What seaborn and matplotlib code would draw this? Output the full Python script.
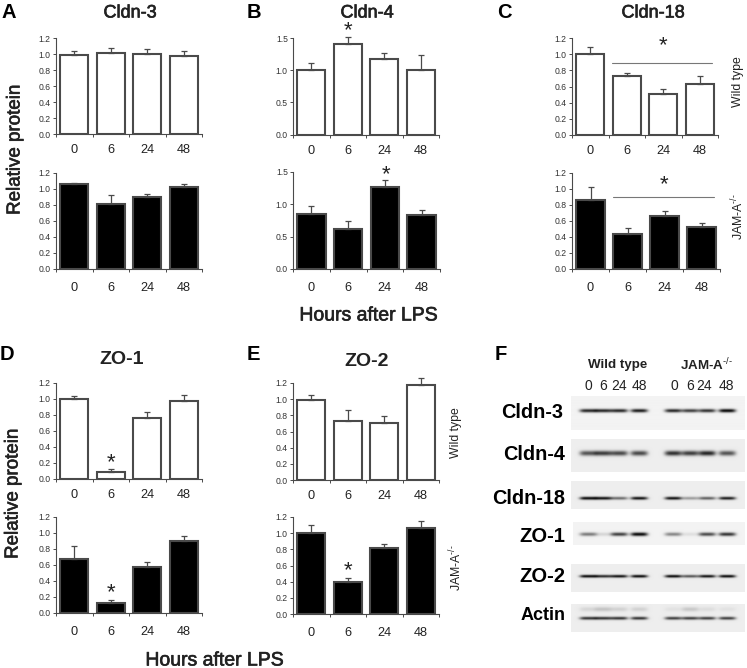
import numpy as np
import pandas as pd
import matplotlib
matplotlib.use("Agg")
import matplotlib.pyplot as plt
import matplotlib.patheffects as pe
import seaborn as sns

sns.set_theme(style="ticks")
plt.rcParams["font.family"] = ["Liberation Sans", "DejaVu Sans"]
plt.rcParams["mathtext.fontset"] = "custom"
plt.rcParams["mathtext.rm"] = "Liberation Sans"
plt.rcParams["mathtext.default"] = "rm"

hours = ["0", "6", "24", "48"]

cldn3_wt = [0.99, 1.01, 1.00, 0.98]
cldn3_wt_err = [0.05, 0.06, 0.06, 0.06]
cldn3_ko = [1.06, 0.81, 0.90, 1.02]
cldn3_ko_err = [0.02, 0.12, 0.04, 0.04]

cldn4_wt = [1.00, 1.41, 1.17, 1.01]
cldn4_wt_err = [0.11, 0.11, 0.10, 0.23]
cldn4_ko = [0.85, 0.62, 1.27, 0.83]
cldn4_ko_err = [0.12, 0.12, 0.10, 0.08]

cldn18_wt = [1.00, 0.73, 0.51, 0.63]
cldn18_wt_err = [0.09, 0.04, 0.06, 0.10]
cldn18_ko = [0.86, 0.44, 0.66, 0.53]
cldn18_ko_err = [0.16, 0.07, 0.06, 0.04]

zo1_wt = [1.00, 0.09, 0.76, 0.98]
zo1_wt_err = [0.04, 0.04, 0.08, 0.07]
zo1_ko = [0.68, 0.12, 0.58, 0.90]
zo1_ko_err = [0.16, 0.04, 0.06, 0.06]

zo2_wt = [0.99, 0.73, 0.71, 1.18]
zo2_wt_err = [0.06, 0.13, 0.08, 0.08]
zo2_ko = [1.00, 0.39, 0.82, 1.07]
zo2_ko_err = [0.10, 0.05, 0.05, 0.08]

# blot band darkness per lane, wild type then JAM-A
blot_names = ["Cldn-3", "Cldn-4", "Cldn-18", "ZO-1", "ZO-2", "Actin"]
blot_cldn3 = [0.85, 0.85, 0.85, 0.90, 0.85, 0.75, 0.80, 1.00]
blot_cldn4 = [0.65, 0.75, 0.70, 0.70, 0.80, 0.75, 0.85, 0.65]
blot_cldn18 = [1.00, 0.95, 0.55, 0.95, 0.95, 0.35, 0.60, 0.90]
blot_zo1 = [0.50, 0.12, 0.75, 1.00, 0.45, 0.08, 0.70, 0.80]
blot_zo2 = [1.00, 0.85, 0.95, 1.00, 1.00, 0.65, 0.95, 1.00]
blot_actin = [0.80, 0.80, 0.80, 0.80, 0.75, 0.75, 0.75, 0.75]
blot_actin_upper = [0.10, 0.18, 0.12, 0.12, 0.05, 0.16, 0.07, 0.05]

W, H = 747, 668
dark = "#222222"
line = "#4a4a4a"
semibold = [pe.withStroke(linewidth=0.45, foreground=dark)]

fig = plt.figure(figsize=(W / 100, H / 100), dpi=100, facecolor="white")


def add_px_axes(left, top, right, bottom):
    return fig.add_axes([left / W, 1 - bottom / H, (right - left) / W, (bottom - top) / H])


def px_text(x, y, s, **kw):
    kw.setdefault("color", dark)
    fig.text(x / W, 1 - y / H, s, **kw)


def bars(box, values, errs, color, ymax, step, pad):
    ax = add_px_axes(*box)
    df = pd.DataFrame({"hour": hours, "value": values})
    sns.barplot(data=df, x="hour", y="value", color=color, saturation=1, width=0.77,
                edgecolor=line, linewidth=1.5, ax=ax)
    eb = ax.errorbar(range(4), values, yerr=[[0] * 4, errs], fmt="none", ecolor=line,
                     elinewidth=0.9, capsize=2.5, capthick=0.9)
    for artist in list(eb.lines[1]) + list(eb.lines[2]):
        artist.set_clip_on(False)
    ax.set_xlim(-0.5, 3.5)
    ax.set_ylim(0, ymax)
    ax.set_xlabel("")
    ax.set_ylabel("")
    ax.set_yticks(np.arange(0, ymax + 0.01, step))
    ax.set_yticklabels([f"{t:.1f}" for t in np.arange(0, ymax + 0.01, step)])
    ax.set_xticks(np.arange(-0.5, 3.6, 1))
    ax.set_xticklabels([])
    ax.set_xticks(range(4), labels=hours, minor=True)
    ax.tick_params(axis="x", which="major", length=2.2, width=0.7, color=line)
    ax.tick_params(axis="x", which="minor", length=0, pad=pad, labelsize=9.2, labelcolor=dark)
    ax.tick_params(axis="y", length=2.2, width=0.7, color=line, pad=1.5, labelsize=6.2, labelcolor="#333333")
    for s in ["top", "right"]:
        ax.spines[s].set_visible(False)
    for s in ["left", "bottom"]:
        ax.spines[s].set_color(line)
        ax.spines[s].set_linewidth(0.8)
    return ax


def star(ax, x, y):
    ax.text(x, y, "*", ha="center", va="center", fontsize=16, color=dark, clip_on=False)


ax_a1 = bars((56, 38, 202, 134), cldn3_wt, cldn3_wt_err, "white", 1.2, 0.2, 7.5)
ax_a2 = bars((56, 173, 202, 269), cldn3_ko, cldn3_ko_err, "black", 1.2, 0.2, 9.5)
ax_b1 = bars((293, 38, 439, 134.5), cldn4_wt, cldn4_wt_err, "white", 1.5, 0.5, 7.5)
ax_b2 = bars((293, 172, 440, 269), cldn4_ko, cldn4_ko_err, "black", 1.5, 0.5, 9.5)
ax_c1 = bars((572, 38, 718, 135), cldn18_wt, cldn18_wt_err, "white", 1.2, 0.2, 7.5)
ax_c2 = bars((572, 173, 720, 269), cldn18_ko, cldn18_ko_err, "black", 1.2, 0.2, 9.5)
ax_d1 = bars((56, 383, 202, 479), zo1_wt, zo1_wt_err, "white", 1.2, 0.2, 7.5)
ax_d2 = bars((56, 517, 202, 613), zo1_ko, zo1_ko_err, "black", 1.2, 0.2, 9.5)
ax_e1 = bars((293, 383, 439, 480), zo2_wt, zo2_wt_err, "white", 1.2, 0.2, 7.5)
ax_e2 = bars((293, 517, 439, 614), zo2_ko, zo2_ko_err, "black", 1.2, 0.2, 9.5)

star(ax_b1, 1, 1.62)
star(ax_b2, 2.03, 1.46)
star(ax_c1, 2, 1.10)
star(ax_c2, 2, 1.05)
star(ax_d1, 1, 0.21)
star(ax_d2, 1, 0.25)
star(ax_e2, 1, 0.53)

ax_c1.plot([0.6, 3.34], [0.885, 0.885], color="#777777", lw=0.8, clip_on=False)
ax_c2.plot([0.6, 3.34], [0.896, 0.896], color="#777777", lw=0.8, clip_on=False)

# panel letters, titles, shared labels
for x, y, s in [(2, 18, "A"), (247, 18, "B"), (497, 18, "C"), (0, 360, "D"), (247, 360, "E"), (495, 360, "F")]:
    px_text(x, y, s, fontsize=14.5, fontweight="bold", ha="left", va="baseline", color="black")

for x, y, s in [(130, 13, "Cldn-3"), (367, 13, "Cldn-4"), (653, 13, "Cldn-18")]:
    px_text(x, y, s, fontsize=13, ha="center", va="center", path_effects=semibold)
for x, y, s in [(122, 360, "ZO-1"), (367, 361, "ZO-2")]:
    px_text(x, y, s, fontsize=14, fontweight="bold", ha="center", va="center")

px_text(15, 150, "Relative protein", fontsize=13.5, rotation=90, ha="center", va="center", path_effects=semibold)
px_text(13, 494, "Relative protein", fontsize=13.5, rotation=90, ha="center", va="center", path_effects=semibold)
px_text(369, 316, "Hours after LPS", fontsize=14, ha="center", va="center", path_effects=semibold)
px_text(215, 661, "Hours after LPS", fontsize=14, ha="center", va="center", path_effects=semibold)

for x, wy, ky in [(738, 82, 217), (456, 433, 568)]:
    px_text(x, wy, "Wild type", fontsize=8.8, rotation=90, ha="center", va="center")
    px_text(x, ky, r"JAM-A$^{\text{-/-}}$", fontsize=8.8, rotation=90, ha="center", va="center")

# western blots
lanes_px = [588, 603, 619, 639, 673, 690, 707, 727]


def blot(left, top, right, bottom, band_y, thick, strength, upper=None, bg=0.93):
    ax = add_px_axes(left, top, right, bottom)
    xx, yy = np.meshgrid(np.arange(left, right, 0.5), np.arange(top, bottom, 0.5))
    dark_map = np.zeros_like(xx, dtype=float)
    for i, (cx, s) in enumerate(zip(lanes_px, strength)):
        across = np.exp(-(((xx - cx) / 8.5) ** 4))
        dark_map += s * across * np.exp(-(((yy - band_y) / thick) ** 2))
        if upper is not None:
            dark_map += upper[i] * across * np.exp(-(((yy - (band_y - 9)) / 2.2) ** 2))
    ax.imshow(bg * (1 - np.clip(dark_map, 0, 0.95)), cmap="gray", vmin=0, vmax=1, aspect="auto",
              interpolation="bilinear")
    ax.axis("off")


blot(571, 396, 745, 430, 411, 1.7, blot_cldn3, bg=0.95)
blot(571, 439, 745, 472, 453, 2.5, blot_cldn4)
blot(571, 481, 745, 509, 498, 1.5, blot_cldn18)
blot(573, 522, 745, 545, 534, 1.8, blot_zo1, bg=0.95)
blot(571, 564, 745, 592, 576, 1.4, blot_zo2)
blot(571, 604, 745, 632, 618, 1.5, blot_actin, upper=blot_actin_upper)

blot_label_pos = [(563, 413, 14.3), (565, 454, 14.3), (565, 498, 14.3), (565, 536, 14.5), (565, 577, 14.5), (566, 616, 13)]
for name, (x, y, size) in zip(blot_names, blot_label_pos):
    px_text(x, y, name, fontsize=size, fontweight="bold", ha="right", va="center", color="black")

px_text(618, 365, "Wild type", fontsize=9.6, fontweight="bold", ha="center", va="center")
px_text(706, 365, r"JAM-A$^{\text{-/-}}$", fontsize=9.6, fontweight="bold", ha="center", va="center")
for x, s in zip([588, 603, 619, 639, 674, 690, 704, 726], hours * 2):
    px_text(x, 386, s, fontsize=10, ha="center", va="center")

fig.savefig("out.png", dpi=100)
